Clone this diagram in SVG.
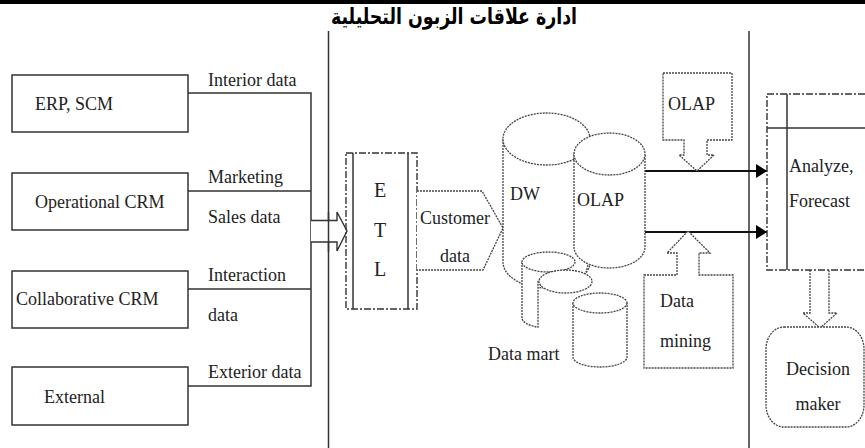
<svg xmlns="http://www.w3.org/2000/svg" width="865" height="448" viewBox="0 0 865 448">
  <style>
    .lbl { font-family: "Liberation Serif", "Times New Roman", serif; font-size: 18px; fill: #222; }
    .etl { font-family: "Liberation Serif", "Times New Roman", serif; font-size: 20px; fill: #222; }
    .title { font-family: "DejaVu Sans", sans-serif; font-size: 22px; font-weight: bold; fill: #000; }
    .box { fill: #fff; stroke: #333; stroke-width: 1.5; }
    .wire { fill: none; stroke: #333; stroke-width: 1.5; }
    .dot { fill: #fff; stroke: #444; stroke-width: 1.3; stroke-dasharray: 2 1; }
    .dotline { fill: none; stroke: #444; stroke-width: 1.3; stroke-dasharray: 2 1; }
    .dashdot { fill: none; stroke: #333; stroke-width: 1.4; stroke-dasharray: 7 2 2 2; }
    .solid { fill: none; stroke: #333; stroke-width: 1.5; }
  </style>
  <defs>
    <marker id="tri" markerWidth="12" markerHeight="14" refX="11" refY="7" orient="auto" markerUnits="userSpaceOnUse">
      <path d="M0,0 L11,7 L0,14 Z" fill="#000"/>
    </marker>
  </defs>

  <rect width="865" height="448" fill="#fff"/>
  <!-- header bar and title -->
  <rect x="0" y="0" width="865" height="4" fill="#000"/>
  <text class="title" transform="translate(454,24) scale(0.79,1)" x="0" y="0" text-anchor="middle" direction="rtl">ادارة علاقات الزبون التحليلية</text>

  <!-- section dividers -->
  <line x1="328.5" y1="31" x2="328.5" y2="448" stroke="#333" stroke-width="1.5"/>
  <line x1="749" y1="31" x2="749" y2="448" stroke="#333" stroke-width="1.5"/>

  <!-- connectors -->
  <g id="connectors">
    <path class="wire" d="M188,93 H311 V386 H188 M188,191 H311 M188,289 H311"/>
    <!-- hollow arrow into ETL -->
    <path d="M311,220.5 H337 V212 L347,231 L337,251 V242 H311" fill="#fff" stroke="#333" stroke-width="1.4"/>
    <line class="wire" x1="328.5" y1="212" x2="328.5" y2="252"/>
    <!-- OLAP cube outputs -->
    <line x1="645" y1="171" x2="767" y2="171" stroke="#111" stroke-width="1.8" marker-end="url(#tri)"/>
    <line x1="645" y1="232" x2="767" y2="232" stroke="#111" stroke-width="1.8" marker-end="url(#tri)"/>
    <!-- analysis to decision maker -->
    <path class="dot" d="M810,270 V313 H803 L820,328 L837,313 H829 V270"/>
  </g>

  <!-- source systems -->
  <g id="erp">
    <rect class="box" x="12" y="75" width="176" height="57"/>
    <text class="lbl" x="35" y="110">ERP, SCM</text>
    <text class="lbl" x="208" y="86">Interior data</text>
  </g>
  <g id="operational-crm">
    <rect class="box" x="12" y="173" width="176" height="57"/>
    <text class="lbl" x="35" y="208">Operational CRM</text>
    <text class="lbl" x="208" y="183">Marketing</text>
    <text class="lbl" x="208" y="223">Sales data</text>
  </g>
  <g id="collaborative-crm">
    <rect class="box" x="12" y="271" width="176" height="57"/>
    <text class="lbl" x="16" y="305">Collaborative CRM</text>
    <text class="lbl" x="208" y="281">Interaction</text>
    <text class="lbl" x="208" y="321">data</text>
  </g>
  <g id="external">
    <rect class="box" x="12" y="367" width="176" height="58"/>
    <text class="lbl" x="44" y="403">External</text>
    <text class="lbl" x="208" y="378">Exterior data</text>
  </g>

  <!-- ETL stage -->
  <g id="etl">
    <rect class="dashdot" x="346" y="153" width="71" height="156"/>
    <line class="solid" x1="353" y1="153" x2="353" y2="309"/>
    <line class="solid" x1="408" y1="153" x2="408" y2="309"/>
    <text class="etl" x="380" y="197" text-anchor="middle">E</text>
    <text class="etl" x="380" y="237" text-anchor="middle">T</text>
    <text class="etl" x="380" y="276" text-anchor="middle">L</text>
  </g>

  <g id="customer-data">
    <path class="dot" d="M417,191 H482 L503,228 L483,270 H417"/>
    <text class="lbl" x="420" y="224">Customer</text>
    <text class="lbl" x="440" y="262">data</text>
  </g>

  <!-- data warehouse and marts -->
  <g id="dw">
    <path class="dot" d="M503,139 V262 A43.5,26 0 0 0 590,262 V139"/>
    <ellipse class="dot" cx="546.5" cy="139" rx="43.5" ry="26"/>
    <text class="lbl" x="510" y="200">DW</text>
  </g>
  <g id="olap-cube">
    <path class="dot" d="M574,154 V247 A35.5,21 0 0 0 645,247 V154"/>
    <ellipse class="dot" cx="609.5" cy="154" rx="35.5" ry="21"/>
    <text class="lbl" x="577" y="206">OLAP</text>
  </g>
  <g id="data-mart">
    <path d="M522,262 V318 A26.5,10 0 0 0 538,327.2 V270 Z" fill="#fff"/>
    <path class="dotline" d="M522,262 V318 A26.5,10 0 0 0 538,327.2 V280"/>
    <ellipse class="dot" cx="548.5" cy="262" rx="26.5" ry="10"/>
    <line class="dotline" x1="588" y1="265" x2="586" y2="272"/>
    <ellipse class="dot" cx="565.5" cy="281.5" rx="26.5" ry="11.5"/>
    <path class="dot" d="M573,303 V357 A27,10 0 0 0 627,357 V303"/>
    <ellipse class="dot" cx="600" cy="303" rx="27" ry="10"/>
    <text class="lbl" x="488" y="360">Data mart</text>
  </g>

  <!-- analysis tools -->
  <g id="olap-tool">
    <path class="dot" d="M663,73 H732 V140 H707 V155 H714 L697,171 L679,155 H684 V140 H663 Z"/>
    <text class="lbl" x="668" y="110">OLAP</text>
  </g>
  <g id="data-mining">
    <path class="dot" d="M644,275 H677 V253 H667 L688,231 L710,253 H699 V275 H733 V368 H644 Z"/>
    <text class="lbl" x="660" y="307">Data</text>
    <text class="lbl" x="660" y="347">mining</text>
  </g>

  <!-- analysis and decision -->
  <g id="analyze">
    <rect class="dashdot" x="767" y="94" width="110" height="176"/>
    <line class="solid" x1="787" y1="94" x2="787" y2="270"/>
    <line class="solid" x1="767" y1="128" x2="865" y2="128"/>
    <text class="lbl" x="789" y="172">Analyze,</text>
    <text class="lbl" x="789" y="207">Forecast</text>
  </g>
  <g id="decision-maker">
    <rect class="dot" x="766" y="327" width="98" height="100" rx="18" ry="22"/>
    <text class="lbl" x="818" y="375" text-anchor="middle">Decision</text>
    <text class="lbl" x="818" y="410" text-anchor="middle">maker</text>
  </g>
</svg>
